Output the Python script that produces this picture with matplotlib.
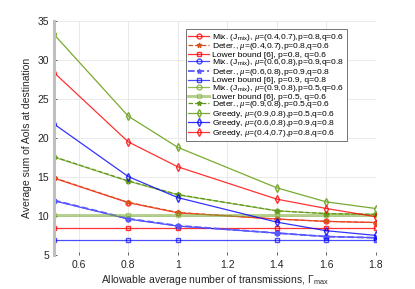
import matplotlib
matplotlib.use('Agg')
import matplotlib.pyplot as plt

plt.rcParams['font.family'] = ['Liberation Sans', 'DejaVu Sans']
plt.rcParams['mathtext.fontset'] = 'custom'
plt.rcParams['mathtext.rm'] = 'Liberation Sans'
plt.rcParams['mathtext.it'] = 'Liberation Serif:italic'

# x values: allowable average number of transmissions
gamma = [0.5, 0.8, 1.0, 1.4, 1.6, 1.8]

# mu=(0.4,0.7), p=0.8, q=0.6  (red)
mix_red = [14.85, 11.7, 10.4, 9.6, 9.3, 9.15]
det_red = [14.9, 11.75, 10.45, 9.6, 9.3, 9.15]
lb_red = [8.45, 8.45, 8.45, 8.45, 8.45, 8.45]
greedy_red = [28.4, 19.5, 16.3, 12.15, 10.95, 9.9]

# mu=(0.6,0.8), p=0.9, q=0.8  (blue)
mix_blue = [11.95, 9.6, 8.7, 7.8, 7.35, 7.2]
det_blue = [12.0, 9.65, 8.75, 7.8, 7.35, 7.2]
lb_blue = [6.85, 6.85, 6.85, 6.85, 6.85, 6.85]
greedy_blue = [21.8, 15.05, 12.35, 9.2, 8.1, 7.5]

# mu=(0.9,0.8), p=0.5, q=0.6  (green)
mix_green = [17.55, 14.45, 12.7, 10.65, 10.3, 10.2]
det_green = [17.6, 14.5, 12.75, 10.65, 10.3, 10.2]
lb_green = [10.15, 10.15, 10.15, 10.15, 10.15, 10.15]
greedy_green = [33.3, 22.8, 18.8, 13.6, 11.8, 10.95]

xticks = [0.6, 0.8, 1.0, 1.2, 1.4, 1.6, 1.8]
xticklabels = ['0.6', '0.8', '1', '1.2', '1.4', '1.6', '1.8']
yticks = [5, 10, 15, 20, 25, 30, 35]

red = (1.0, 0.0, 0.0)
orange = (0.85, 0.33, 0.1)
blue = (0.0, 0.0, 1.0)
lblue = (0.35, 0.35, 1.0)
green = (0.47, 0.67, 0.19)
dgreen = (0.39, 0.6, 0.1)

fig = plt.figure(figsize=(4.15, 2.89), dpi=100)
ax = fig.add_axes([0.130, 0.118, 0.776, 0.809])

ms = 3.5
lw = 0.9
ax.plot(gamma, mix_red, '-o', color=red, lw=lw, ms=ms, mfc='none', alpha=0.8,
        label=r'Mix. (J$_{\rm mix}$), $\mu$=(0.4,0.7),p=0.8,q=0.6')
ax.plot(gamma, det_red, '--*', color=orange, lw=lw, ms=ms,
        label=r'Deter., $\mu$=(0.4,0.7),p=0.8,q=0.6')
ax.plot(gamma, lb_red, '-s', color=red, lw=lw, ms=ms, mfc='none', alpha=0.8,
        label='Lower bound [6], p=0.8, q=0.6')
ax.plot(gamma, mix_blue, '-o', color=blue, lw=lw, ms=ms, mfc='none', alpha=0.7,
        label=r'Mix. (J$_{\rm mix}$), $\mu$=(0.6,0.8),p=0.9,q=0.8')
ax.plot(gamma, det_blue, '--*', color=lblue, lw=lw + 0.4, ms=ms,
        label=r'Deter., $\mu$=(0.6,0.8),p=0.9,q=0.8')
ax.plot(gamma, lb_blue, '-s', color=blue, lw=lw, ms=ms, mfc='none', alpha=0.7,
        label='Lower bound [6], p=0.9, q=0.8')
ax.plot(gamma, mix_green, '-o', color=green, lw=lw, ms=ms, mfc='none', alpha=0.8,
        label=r'Mix. (J$_{\rm mix}$), $\mu$=(0.9,0.8),p=0.5,q=0.6')
ax.plot(gamma, lb_green, '-s', color=green, lw=lw + 1.2, ms=ms, mfc='none', alpha=0.55,
        label='Lower bound [6], p=0.5, q=0.6')
ax.plot(gamma, det_green, '--*', color=dgreen, lw=lw, ms=ms,
        label=r'Deter., $\mu$=(0.9,0.8),p=0.5,q=0.6')
ax.plot(gamma, greedy_green, '-d', color=green, lw=lw, ms=ms + 0.5, mfc='none',
        label=r'Greedy, $\mu$=(0.9,0.8),p=0.5,q=0.6')
ax.plot(gamma, greedy_blue, '-d', color=blue, lw=lw, ms=ms + 0.5, mfc='none', alpha=0.8,
        label=r'Greedy, $\mu$=(0.6,0.8),p=0.9,q=0.8')
ax.plot(gamma, greedy_red, '-d', color=red, lw=lw, ms=ms + 0.5, mfc='none', alpha=0.8,
        label=r'Greedy, $\mu$=(0.4,0.7),p=0.8,q=0.6')

ax.set_xlim(0.5, 1.8)
ax.set_ylim(5, 35)
ax.set_xticks(xticks)
ax.set_xticklabels(xticklabels)
ax.set_yticks(yticks)
ax.tick_params(labelsize=7.5, colors=(0.15, 0.15, 0.15), length=2.5, width=0.5, direction='in')
ax.grid(True, color=(0.9, 0.9, 0.9), lw=0.6)
ax.set_axisbelow(True)
for s in ['top', 'right', 'bottom']:
    ax.spines[s].set_visible(False)
ax.spines['left'].set_color((0.75, 0.75, 0.75))
ax.spines['left'].set_linewidth(2.2)

ax.set_xlabel(r'Allowable average number of transmissions, $\Gamma_{\rm max}$',
              fontsize=7.5, color=(0.15, 0.15, 0.15), labelpad=2)
ax.set_ylabel('Average sum of AoIs at destination', fontsize=7.5,
              color=(0.15, 0.15, 0.15), labelpad=4)

leg = ax.legend(loc='upper right', bbox_to_anchor=(0.909, 0.965), borderaxespad=0,
                fontsize=6.1, handlelength=2.5, handletextpad=0.3, labelspacing=-0.17,
                borderpad=0.3, fancybox=False, framealpha=1)
leg.get_frame().set_edgecolor((0.45, 0.45, 0.45))
leg.get_frame().set_linewidth(0.7)

fig.savefig('out.png', dpi=100)
